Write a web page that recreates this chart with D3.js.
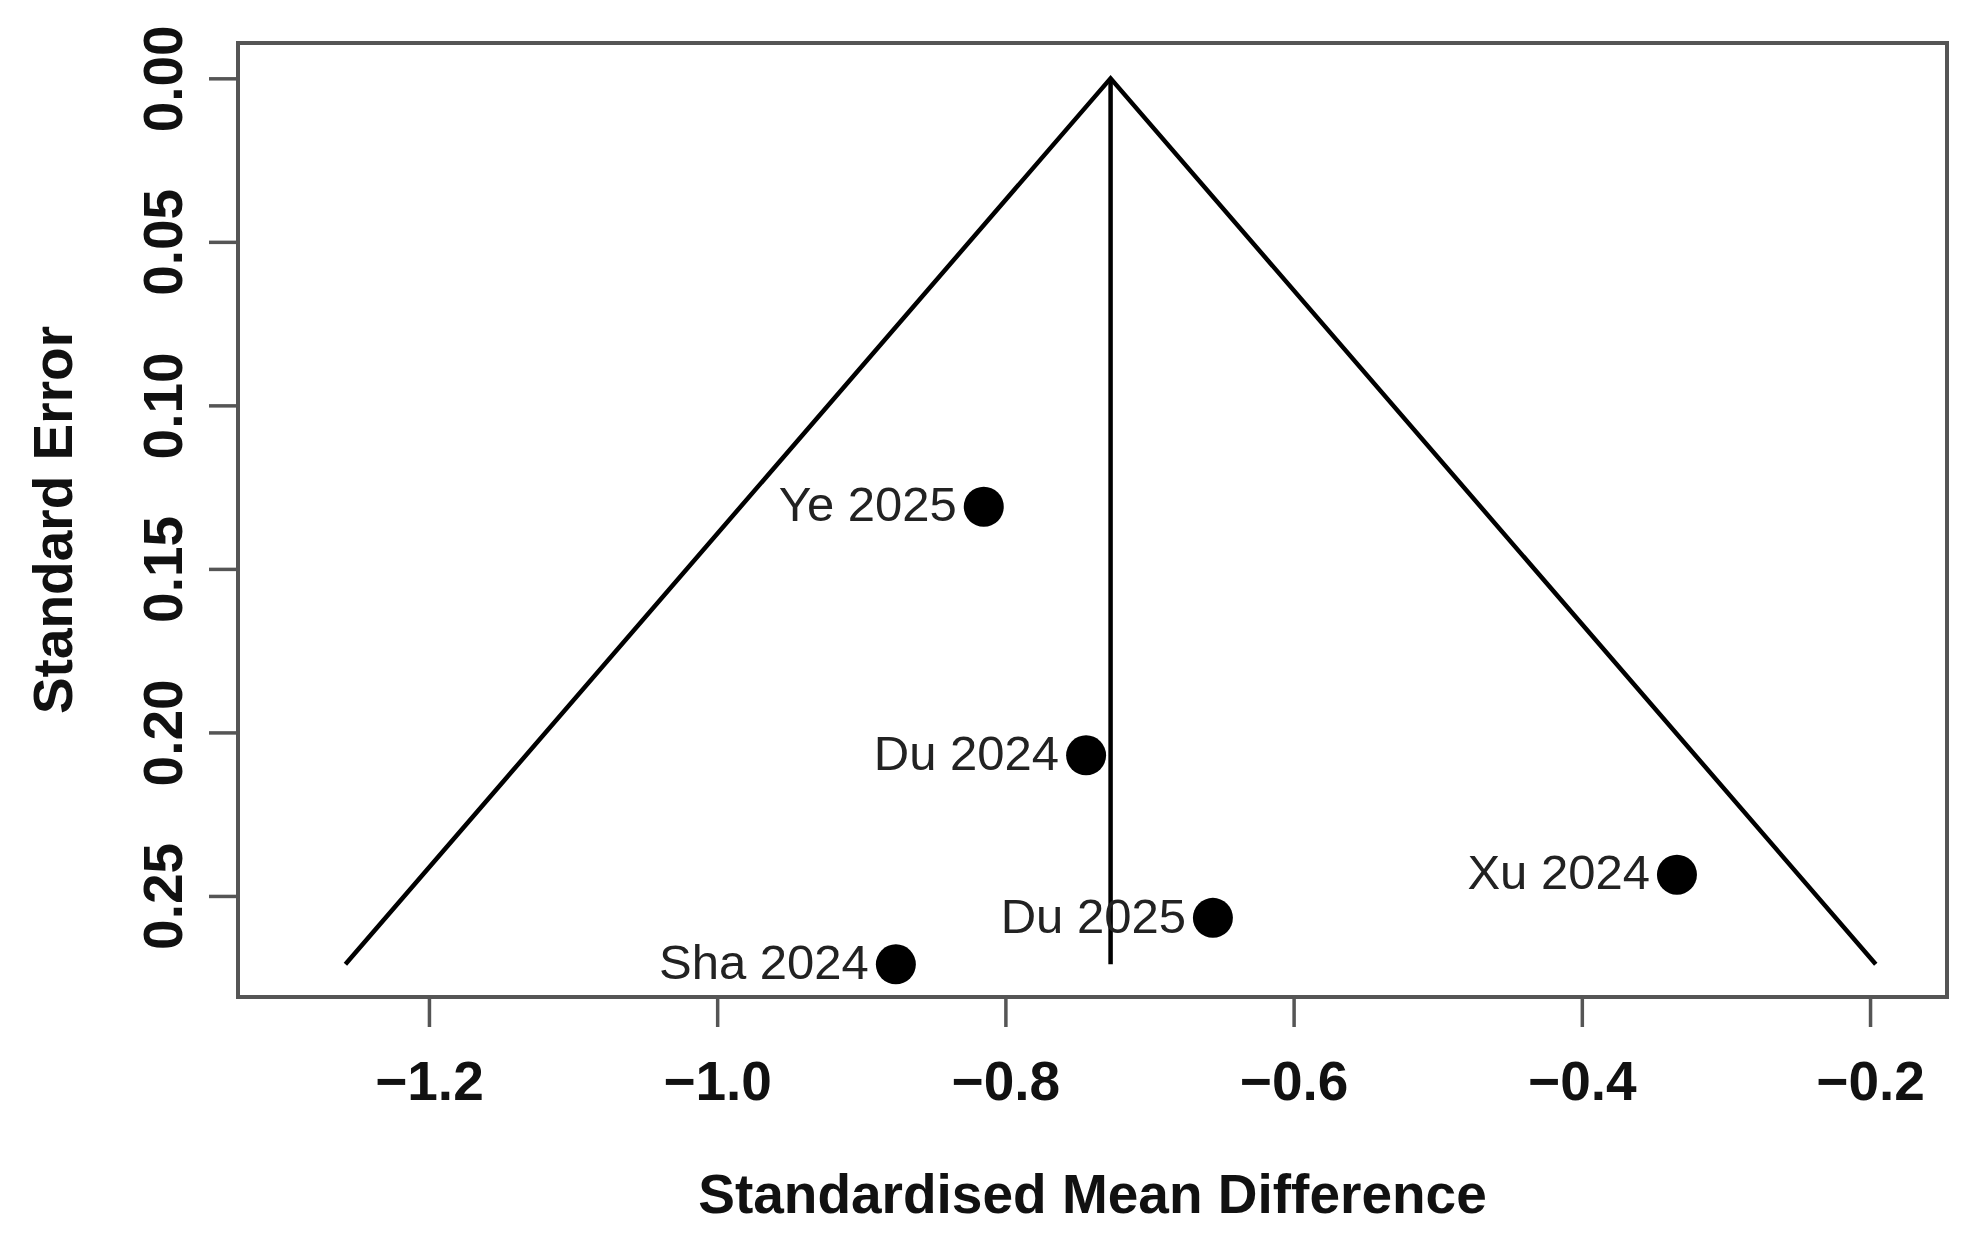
<!DOCTYPE html>
<html>
<head>
<meta charset="utf-8">
<script src="https://cdn.jsdelivr.net/npm/d3@7"></script>
<style>
  body { margin: 0; background: #fff; }
  svg { display: block; font-family: "Liberation Sans", Arial, Helvetica, sans-serif; }
</style>
</head>
<body>
<div id="chart"></div>
<script>
// study estimates
const studies = ["Ye 2025", "Du 2024", "Xu 2024", "Du 2025", "Sha 2024"];
const smd = [-0.815, -0.744, -0.334, -0.656, -0.876];
const se = [0.131, 0.207, 0.2435, 0.2567, 0.2709];

const pooled = -0.727;
const xTicks = [-1.2, -1.0, -0.8, -0.6, -0.4, -0.2];
const yTicks = [0.00, 0.05, 0.10, 0.15, 0.20, 0.25];

const width = 1975;
const height = 1233;
const box = { left: 238, right: 1947, top: 43, bottom: 997 };

const svg = d3.select("#chart")
    .append("svg")
    .attr("width", width)
    .attr("height", height);

const x = d3.scaleLinear().domain([-1.3325, -0.1466]).range([box.left, box.right]);
const y = d3.scaleLinear().domain([-0.0108, 0.2809]).range([box.top, box.bottom]);

const points = studies.map((name, i) => ({ name: name, smd: smd[i], se: se[i] }));
const seMax = d3.max(se);

// funnel: pooled estimate +/- 1.96 SE
const funnel = [
    [pooled - 1.96 * seMax, seMax],
    [pooled, 0],
    [pooled + 1.96 * seMax, seMax]
];
const line = d3.line().x(d => x(d[0])).y(d => y(d[1]));

svg.append("path")
    .attr("d", line(funnel))
    .attr("fill", "none")
    .attr("stroke", "#000")
    .attr("stroke-width", 4.5);

svg.append("path")
    .attr("d", line([[pooled, 0], [pooled, seMax]]))
    .attr("fill", "none")
    .attr("stroke", "#000")
    .attr("stroke-width", 4.5);

// points and labels
svg.append("g").selectAll("circle")
    .data(points)
    .enter()
    .append("circle")
    .attr("cx", d => x(d.smd))
    .attr("cy", d => y(d.se))
    .attr("r", 20)
    .attr("fill", "#000");

svg.append("g").selectAll("text")
    .data(points)
    .enter()
    .append("text")
    .attr("x", d => x(d.smd) - 27)
    .attr("y", d => y(d.se))
    .attr("dy", "0.3em")
    .attr("text-anchor", "end")
    .attr("font-size", 49)
    .attr("fill", "#222")
    .text(d => d.name);

// box
svg.append("rect")
    .attr("x", box.left)
    .attr("y", box.top)
    .attr("width", box.right - box.left)
    .attr("height", box.bottom - box.top)
    .attr("fill", "none")
    .attr("stroke", "#555")
    .attr("stroke-width", 4);

// axes
const xAxis = svg.append("g")
    .attr("transform", `translate(0,${box.bottom})`)
    .call(d3.axisBottom(x).tickValues(xTicks).tickFormat(d3.format(".1f")).tickSize(30).tickPadding(38));

const yAxis = svg.append("g")
    .attr("transform", `translate(${box.left},0)`)
    .call(d3.axisLeft(y).tickValues(yTicks).tickFormat(d3.format(".2f")).tickSize(29).tickPadding(0));

[xAxis, yAxis].forEach(g => {
    g.select(".domain").remove();
    g.selectAll(".tick line").attr("stroke", "#555").attr("stroke-width", 3.5);
    g.selectAll(".tick text")
        .attr("font-family", "'Liberation Sans', Arial, sans-serif")
        .attr("font-size", 55)
        .attr("font-weight", "bold")
        .attr("fill", "#111");
});

xAxis.selectAll(".tick text").attr("dy", null).attr("y", 103 - 0);

yAxis.selectAll(".tick text")
    .attr("x", null)
    .attr("dy", null)
    .attr("text-anchor", "middle")
    .attr("transform", "translate(-56,0) rotate(-90)")
    .attr("y", 0);

// axis titles
svg.append("text")
    .attr("x", (box.left + box.right) / 2)
    .attr("y", 1213)
    .attr("text-anchor", "middle")
    .attr("font-size", 55)
    .attr("font-weight", "bold")
    .attr("fill", "#111")
    .text("Standardised Mean Difference");

svg.append("text")
    .attr("transform", `translate(72,${(box.top + box.bottom) / 2}) rotate(-90)`)
    .attr("text-anchor", "middle")
    .attr("font-size", 55)
    .attr("font-weight", "bold")
    .attr("fill", "#111")
    .text("Standard Error");
</script>
</body>
</html>
